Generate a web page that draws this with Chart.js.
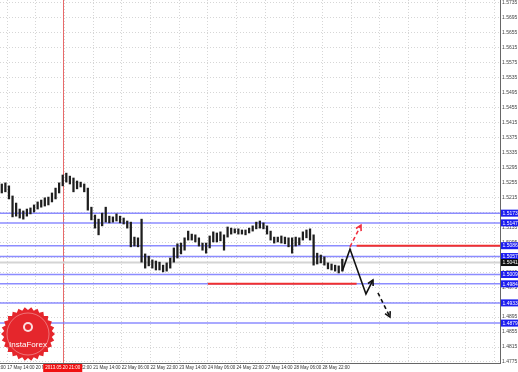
<!DOCTYPE html>
<html>
<head>
<meta charset="utf-8">
<script src="https://cdn.jsdelivr.net/npm/chart.js@4.4.0/dist/chart.umd.min.js"></script>
<style>
    html, body { margin: 0; padding: 0; background: #fff; }
    #wrap { width: 518px; height: 372px; position: relative; }
</style>
</head>
<body>
<div id="wrap"><canvas id="fxChart"></canvas></div>
<script>
        // H1 candles, every second bar (bar 0 = 17 May 14:00)
        const firstBar = -3;
        const barStep = 2;
        const highs = [1.5251, 1.5254, 1.5246, 1.5219, 1.5200, 1.5184, 1.5179, 1.5184, 1.5187, 1.5195,
            1.5203, 1.5208, 1.5214, 1.5216, 1.5227, 1.5240, 1.5254, 1.5275, 1.5280, 1.5272,
            1.5267, 1.5259, 1.5256, 1.5251, 1.5240, 1.5189, 1.5168, 1.5157, 1.5173, 1.5189,
            1.5165, 1.5163, 1.5171, 1.5165, 1.5160, 1.5152, 1.5149, 1.5109, 1.5107, 1.5157,
            1.5064, 1.5058, 1.5048, 1.5045, 1.5042, 1.5034, 1.5040, 1.5053, 1.5080, 1.5091,
            1.5093, 1.5107, 1.5125, 1.5117, 1.5115, 1.5107, 1.5093, 1.5093, 1.5112, 1.5123,
            1.5120, 1.5123, 1.5115, 1.5136, 1.5133, 1.5131, 1.5131, 1.5128, 1.5128, 1.5133,
            1.5139, 1.5149, 1.5152, 1.5147, 1.5139, 1.5125, 1.5109, 1.5109, 1.5112, 1.5109,
            1.5107, 1.5107, 1.5109, 1.5107, 1.5123, 1.5128, 1.5131, 1.5115, 1.5066, 1.5061,
            1.5056, 1.5040, 1.5037, 1.5034, 1.5032, 1.5050];
        const lows = [1.5227, 1.5230, 1.5211, 1.5163, 1.5165, 1.5160, 1.5157, 1.5165, 1.5171, 1.5176,
            1.5184, 1.5189, 1.5192, 1.5195, 1.5203, 1.5211, 1.5227, 1.5246, 1.5256, 1.5251,
            1.5230, 1.5238, 1.5243, 1.5230, 1.5181, 1.5155, 1.5133, 1.5115, 1.5139, 1.5149,
            1.5147, 1.5149, 1.5152, 1.5147, 1.5144, 1.5133, 1.5083, 1.5085, 1.5083, 1.5042,
            1.5026, 1.5032, 1.5026, 1.5021, 1.5021, 1.5016, 1.5018, 1.5026, 1.5042, 1.5053,
            1.5064, 1.5074, 1.5101, 1.5101, 1.5096, 1.5085, 1.5074, 1.5066, 1.5080, 1.5096,
            1.5096, 1.5099, 1.5074, 1.5109, 1.5117, 1.5120, 1.5117, 1.5117, 1.5115, 1.5120,
            1.5125, 1.5131, 1.5133, 1.5131, 1.5117, 1.5101, 1.5093, 1.5096, 1.5093, 1.5091,
            1.5083, 1.5066, 1.5085, 1.5088, 1.5101, 1.5107, 1.5101, 1.5034, 1.5037, 1.5040,
            1.5034, 1.5024, 1.5021, 1.5018, 1.5013, 1.5018];

        const timeLabels = ['16 May 22:00', '17 May 14:00', '20 May 06:00', '20 May 22:00', '21 May 14:00',
            '22 May 06:00', '22 May 22:00', '23 May 14:00', '24 May 06:00', '24 May 22:00',
            '27 May 14:00', '28 May 06:00', '28 May 22:00', '', '', '', '', '', ''];
        const priceTicks = [1.5735, 1.5695, 1.5655, 1.5615, 1.5575, 1.5535, 1.5495, 1.5455, 1.5415,
            1.5375, 1.5335, 1.5295, 1.5255, 1.5215, 1.5175, 1.5135, 1.5095, 1.5055, 1.5015,
            1.4975, 1.4935, 1.4895, 1.4855, 1.4815, 1.4775];

        // support / resistance levels
        const levels = [1.5173, 1.5147, 1.5086, 1.5057, 1.5009, 1.4984, 1.4933, 1.4879];
        const currentPrice = 1.5041;
        const redLevels = [
            { from: 195, to: 275, price: 1.5086 },
            { from: 112, to: 195, price: 1.4984 }
        ];
        const crosshairBar = 31;
        const crosshairText = '2013.05.20 21:00';

        // forecast arrows (bar, price)
        const forecastMain = [[187, 1.5018], [191.3, 1.5077], [200.2, 1.4957], [204.1, 1.4994]];
        const forecastNext = [[206.9, 1.4960], [213.6, 1.4895]];
        const forecastAlt = [[191.3, 1.5083], [197.4, 1.5141]];

        const X_MIN = -4, X_MAX = 275;
        const fontFamily = '"Liberation Sans", "DejaVu Sans", sans-serif';

        const candleData = highs.map((h, k) => ({ x: firstBar + barStep * k, y: [lows[k], h] }));
        const toXY = arr => arr.map(p => ({ x: p[0], y: p[1] }));

        const datasets = [];
        levels.forEach(p => {
            datasets.push({
                type: 'line', data: [{ x: X_MIN, y: p }, { x: X_MAX, y: p }],
                borderColor: 'rgba(120,120,255,0.85)', borderWidth: 1.5, pointRadius: 0, order: 5
            });
        });
        datasets.push({
            type: 'line', data: [{ x: X_MIN, y: currentPrice }, { x: X_MAX, y: currentPrice }],
            borderColor: '#d4d4d4', borderWidth: 2, pointRadius: 0, order: 6
        });
        redLevels.forEach(r => {
            datasets.push({
                type: 'line', data: [{ x: r.from, y: r.price }, { x: r.to, y: r.price }],
                borderColor: '#f03030', borderWidth: 2, pointRadius: 0, order: 4
            });
        });
        datasets.push({
            type: 'bar', data: candleData, backgroundColor: '#1e1e1e',
            barThickness: 1.6, order: 3
        });
        datasets.push({
            type: 'line', data: toXY(forecastMain), borderColor: '#111', borderWidth: 1.6,
            pointRadius: 0, arrow: true, order: 1
        });
        datasets.push({
            type: 'line', data: toXY(forecastNext), borderColor: '#111', borderWidth: 1.6,
            borderDash: [4, 3], pointRadius: 0, arrow: true, order: 1
        });
        datasets.push({
            type: 'line', data: toXY(forecastAlt), borderColor: '#f03040', borderWidth: 1.6,
            borderDash: [4, 3], pointRadius: 0, arrow: true, order: 1
        });

        // overlays: crosshair, arrowheads, price boxes, logo
        const overlayPlugin = {
            id: 'overlay',
            beforeDatasetsDraw(chart) {
                const { ctx, chartArea, scales } = chart;
                const x = scales.x.getPixelForValue(crosshairBar);
                ctx.save();
                ctx.strokeStyle = '#e86a6a';
                ctx.lineWidth = 1;
                ctx.beginPath();
                ctx.moveTo(Math.round(x) + 0.5, chartArea.top);
                ctx.lineTo(Math.round(x) + 0.5, chartArea.bottom);
                ctx.stroke();
                ctx.restore();
            },
            afterDatasetsDraw(chart) {
                const ctx = chart.ctx;
                chart.data.datasets.forEach((ds, i) => {
                    if (!ds.arrow) return;
                    const pts = chart.getDatasetMeta(i).data;
                    const a = pts[pts.length - 2], b = pts[pts.length - 1];
                    const ang = Math.atan2(b.y - a.y, b.x - a.x);
                    const len = 6;
                    ctx.save();
                    ctx.strokeStyle = ds.borderColor;
                    ctx.lineWidth = 1.6;
                    ctx.beginPath();
                    ctx.moveTo(b.x - len * Math.cos(ang - 0.5), b.y - len * Math.sin(ang - 0.5));
                    ctx.lineTo(b.x, b.y);
                    ctx.lineTo(b.x - len * Math.cos(ang + 0.5), b.y - len * Math.sin(ang + 0.5));
                    ctx.stroke();
                    ctx.restore();
                });
            },
            afterDraw(chart) {
                const { ctx, chartArea, scales } = chart;
                ctx.save();
                ctx.font = '5px ' + fontFamily;
                ctx.textBaseline = 'middle';
                const boxes = levels.map(p => ({ p, bg: '#1c1cf0' }));
                boxes.push({ p: currentPrice, bg: '#111' });
                boxes.forEach(b => {
                    const y = scales.y.getPixelForValue(b.p);
                    ctx.fillStyle = b.bg;
                    ctx.fillRect(chartArea.right + 1, y - 3.5, 17, 7);
                    ctx.fillStyle = '#fff';
                    ctx.fillText(b.p.toFixed(4), chartArea.right + 2.5, y + 0.3);
                });

                // time box under the crosshair
                const cx = scales.x.getPixelForValue(crosshairBar);
                ctx.font = '4.5px ' + fontFamily;
                const w = ctx.measureText(crosshairText).width + 4;
                ctx.fillStyle = '#f01010';
                ctx.fillRect(cx - w / 2, chartArea.bottom + 1, w, 8);
                ctx.fillStyle = '#fff';
                ctx.textAlign = 'center';
                ctx.fillText(crosshairText, cx, chartArea.bottom + 5.2);

                // InstaForex seal
                const lx = 28, ly = 334, spikes = 26;
                ctx.beginPath();
                for (let i = 0; i < spikes * 2; i++) {
                    const r = i % 2 === 0 ? 27 : 24;
                    const t = Math.PI * i / spikes;
                    ctx.lineTo(lx + r * Math.cos(t), ly + r * Math.sin(t));
                }
                ctx.closePath();
                ctx.fillStyle = '#e5262c';
                ctx.fill();
                ctx.beginPath();
                ctx.arc(lx, ly, 21, 0, Math.PI * 2);
                ctx.strokeStyle = 'rgba(255,255,255,0.35)';
                ctx.lineWidth = 1;
                ctx.stroke();
                ctx.fillStyle = '#fff';
                ctx.font = '8px ' + fontFamily;
                ctx.fillText('InstaForex', lx, ly + 11);
                ctx.beginPath();
                ctx.arc(lx, ly - 7, 5, 0, Math.PI * 2);
                ctx.fillStyle = 'rgba(255,255,255,0.85)';
                ctx.fill();
                ctx.beginPath();
                ctx.arc(lx, ly - 7, 3, 0, Math.PI * 2);
                ctx.fillStyle = '#e5262c';
                ctx.fill();
                ctx.restore();
            }
        };

        const fxCtx = document.getElementById('fxChart').getContext('2d');
        const fxChart = new Chart(fxCtx, {
            type: 'bar',
            data: { datasets: datasets },
            options: {
                responsive: true,
                maintainAspectRatio: false,
                animation: false,
                layout: { padding: 0 },
                plugins: {
                    legend: { display: false },
                    tooltip: { enabled: false }
                },
                scales: {
                    x: {
                        type: 'linear',
                        min: X_MIN,
                        max: X_MAX,
                        offset: false,
                        afterBuildTicks: function(scale) {
                            scale.ticks = timeLabels.map((_, i) => ({ value: -16 + 16 * i }));
                        },
                        afterFit: function(scale) {
                            scale.height = 9;
                            scale.paddingLeft = 0;
                            scale.paddingRight = 0;
                        },
                        grid: { color: '#d6d6d6', lineWidth: 1, drawTicks: false, offset: false },
                        border: { display: true, color: '#666', dash: [1, 2] },
                        ticks: {
                            autoSkip: false,
                            maxRotation: 0,
                            align: 'start',
                            padding: 2,
                            color: '#333',
                            font: { family: fontFamily, size: 4.5 },
                            callback: function(value) {
                                const i = Math.round((value + 16) / 16);
                                return timeLabels[i] || '';
                            }
                        }
                    },
                    y: {
                        position: 'right',
                        min: 1.47723,
                        max: 1.57430,
                        afterBuildTicks: function(scale) {
                            scale.ticks = priceTicks.map(v => ({ value: v }));
                        },
                        afterFit: function(scale) {
                            scale.width = 18;
                            scale.paddingTop = 0;
                            scale.paddingBottom = 0;
                        },
                        grid: { color: '#d6d6d6', lineWidth: 1, drawTicks: false },
                        border: { display: true, color: '#666', dash: [1, 2] },
                        ticks: {
                            padding: 2,
                            color: '#444',
                            font: { family: fontFamily, size: 5 },
                            callback: function(value) {
                                return value.toFixed(4);
                            }
                        }
                    }
                }
            },
            plugins: [overlayPlugin]
        });
</script>
</body>
</html>
